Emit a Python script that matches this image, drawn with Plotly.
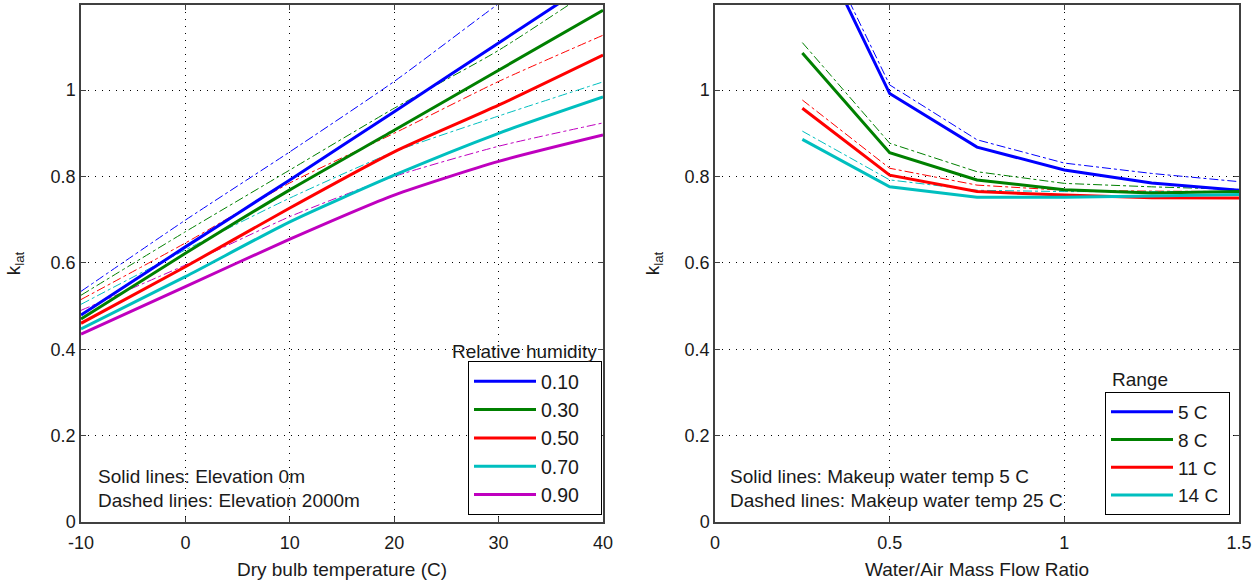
import plotly.graph_objects as go

# ---------------- data ----------------
# Left panel: k_lat vs dry bulb temperature
temp_c = [-10, 0, 10, 20, 30, 40]
rh_labels = ["0.10", "0.30", "0.50", "0.70", "0.90"]
rh_colors = ["#0000ff", "#008000", "#ff0000", "#00bfbf", "#bf00bf"]
klat_elev0 = [
    [0.479, 0.637, 0.792, 0.950, 1.109, 1.268],
    [0.470, 0.622, 0.769, 0.907, 1.046, 1.185],
    [0.460, 0.591, 0.727, 0.857, 0.965, 1.081],
    [0.447, 0.568, 0.695, 0.803, 0.900, 0.984],
    [0.435, 0.545, 0.655, 0.757, 0.835, 0.896],
]
klat_elev2000 = [
    [0.534, 0.699, 0.857, 1.020, 1.200, 1.370],
    [0.525, 0.672, 0.815, 0.958, 1.092, 1.250],
    [0.515, 0.646, 0.785, 0.900, 1.020, 1.127],
    [0.504, 0.630, 0.750, 0.857, 0.940, 1.019],
    [0.490, 0.595, 0.707, 0.800, 0.870, 0.924],
]

# Right panel: k_lat vs water/air mass flow ratio
flow_ratio = [0.25, 0.5, 0.75, 1.0, 1.25, 1.5]
range_labels = ["5 C", "8 C", "11 C", "14 C"]
range_colors = ["#0000ff", "#008000", "#ff0000", "#00bfbf"]
klat_mw5 = [
    [1.410, 0.992, 0.868, 0.815, 0.785, 0.768],
    [1.086, 0.855, 0.792, 0.769, 0.762, 0.765],
    [0.958, 0.803, 0.765, 0.757, 0.751, 0.750],
    [0.886, 0.776, 0.752, 0.752, 0.755, 0.758],
]
klat_mw25 = [
    [1.430, 1.012, 0.885, 0.831, 0.807, 0.788],
    [1.110, 0.877, 0.811, 0.784, 0.776, 0.770],
    [0.977, 0.819, 0.780, 0.768, 0.766, 0.765],
    [0.905, 0.792, 0.768, 0.765, 0.765, 0.765],
]

left_xticks = [-10, 0, 10, 20, 30, 40]
left_xticktext = ["-10", "0", "10", "20", "30", "40"]
right_xticks = [0, 0.5, 1, 1.5]
right_xticktext = ["0", "0.5", "1", "1.5"]
yticks = [0, 0.2, 0.4, 0.6, 0.8, 1]
yticktext = ["0", "0.2", "0.4", "0.6", "0.8", "1"]

# ---------------- figure ----------------
W, H = 1260, 581
FONT = "Liberation Sans, Arial, sans-serif"
TXT = "#1a1a1a"
fig = go.Figure()

for i, lab in enumerate(rh_labels):
    fig.add_trace(go.Scatter(x=temp_c, y=klat_elev2000[i], mode="lines",
                             line=dict(color=rh_colors[i], width=1, dash="dashdot",
                                       shape="spline", smoothing=0.6),
                             showlegend=False, xaxis="x", yaxis="y", hoverinfo="skip"))
for i, lab in enumerate(rh_labels):
    fig.add_trace(go.Scatter(x=temp_c, y=klat_elev0[i], mode="lines",
                             name=lab + "\u00a0\u00a0\u00a0",
                             line=dict(color=rh_colors[i], width=3, shape="spline", smoothing=0.6),
                             legend="legend", xaxis="x", yaxis="y"))

for i, lab in enumerate(range_labels):
    fig.add_trace(go.Scatter(x=flow_ratio, y=klat_mw25[i], mode="lines",
                             line=dict(color=range_colors[i], width=1, dash="dashdot"),
                             showlegend=False, xaxis="x2", yaxis="y2", hoverinfo="skip"))
for i, lab in enumerate(range_labels):
    fig.add_trace(go.Scatter(x=flow_ratio, y=klat_mw5[i], mode="lines",
                             name=lab + "\u00a0",
                             line=dict(color=range_colors[i], width=3),
                             legend="legend2", xaxis="x2", yaxis="y2"))

axis_common = dict(
    showline=True, linecolor="#404040", linewidth=1.5, mirror="ticks",
    ticks="inside", ticklen=5, tickcolor="#404040",
    showgrid=True, gridcolor="#000000", gridwidth=1, griddash="1px,6px",
    zeroline=False, automargin=False,
    tickfont=dict(family=FONT, size=18, color=TXT),
)

L0, L1 = 81 / W, 603 / W
R0, R1 = 715 / W, 1239 / W
T, B = 5, 59
ydom = [B / H, 1 - T / H]
YMAX = 1.197

fig.update_layout(
    width=W, height=H,
    margin=dict(l=0, r=0, t=0, b=0),
    paper_bgcolor="white", plot_bgcolor="white",
    font=dict(family=FONT, size=19, color=TXT),
    xaxis=dict(domain=[L0, L1], range=[-10, 40], tickvals=left_xticks, ticktext=left_xticktext,
               anchor="y", ticklabelstandoff=4,
               title=dict(text="Dry bulb temperature (C)", font=dict(size=19), standoff=10),
               **axis_common),
    yaxis=dict(domain=ydom, range=[0, YMAX], tickvals=yticks, ticktext=yticktext, anchor="x",
               title=dict(text="k<sub>lat</sub>", font=dict(size=19), standoff=25),
               **axis_common),
    xaxis2=dict(domain=[R0, R1], range=[0, 1.5], tickvals=right_xticks, ticktext=right_xticktext,
                anchor="y2", ticklabelstandoff=4,
                title=dict(text="Water/Air Mass Flow Ratio", font=dict(size=19), standoff=10),
                **axis_common),
    yaxis2=dict(domain=ydom, range=[0, YMAX], tickvals=yticks, ticktext=yticktext, anchor="x2",
                title=dict(text="k<sub>lat</sub>", font=dict(size=19), standoff=20),
                **axis_common),
    legend=dict(x=L1 - 1 / W, xanchor="right", y=(H - 515) / H, yanchor="bottom",
                bgcolor="white", bordercolor="#000", borderwidth=1,
                font=dict(family=FONT, size=19.5, color=TXT), itemwidth=62,
                tracegroupgap=0),
    legend2=dict(x=1230 / W, xanchor="right", y=(H - 515) / H, yanchor="bottom",
                 bgcolor="white", bordercolor="#000", borderwidth=1,
                 font=dict(family=FONT, size=19, color=TXT), itemwidth=62,
                 tracegroupgap=0),
    annotations=[
        dict(text="Relative humidity", x=L1 - 4 / W, y=(H - 351) / H, xref="paper", yref="paper",
             xanchor="right", yanchor="middle", showarrow=False, font=dict(size=19)),
        dict(text="Range", x=1110 / W, y=(H - 379) / H, xref="paper", yref="paper",
             xanchor="left", yanchor="middle", showarrow=False, font=dict(size=19)),
        dict(text="Solid lines: Elevation 0m", x=96 / W, y=(H - 476) / H, xref="paper", yref="paper",
             xanchor="left", yanchor="middle", showarrow=False, font=dict(size=19)),
        dict(text="Dashed lines: Elevation 2000m", x=96 / W, y=(H - 500) / H, xref="paper", yref="paper",
             xanchor="left", yanchor="middle", showarrow=False, font=dict(size=19)),
        dict(text="Solid lines: Makeup water temp 5 C", x=728 / W, y=(H - 476) / H, xref="paper",
             yref="paper", xanchor="left", yanchor="middle", showarrow=False, font=dict(size=19)),
        dict(text="Dashed lines: Makeup water temp 25 C", x=728 / W, y=(H - 500) / H, xref="paper",
             yref="paper", xanchor="left", yanchor="middle", showarrow=False, font=dict(size=19)),
    ],
)

fig.write_html("out.html")
